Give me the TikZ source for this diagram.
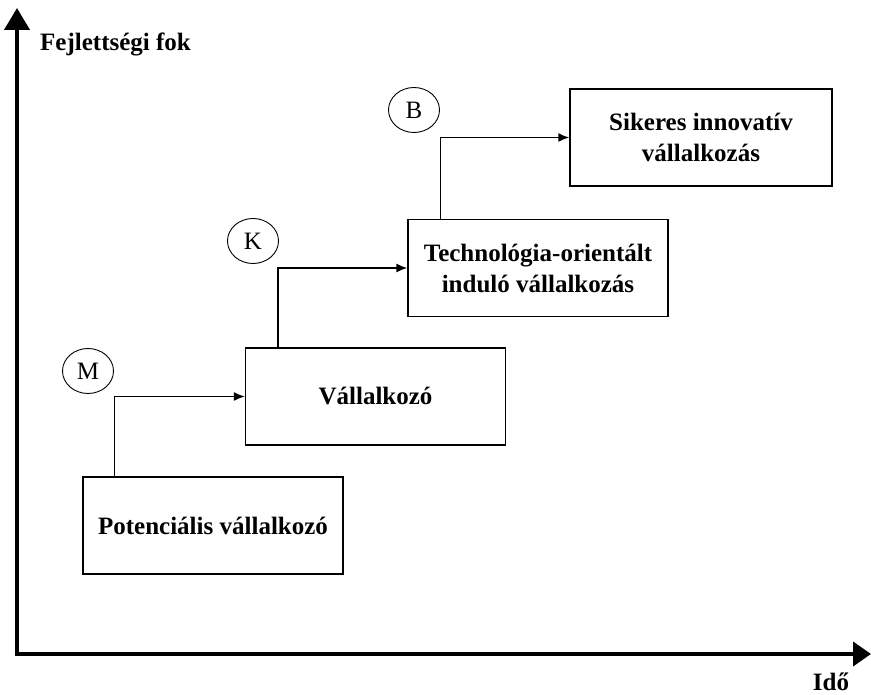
\documentclass[tikz,border=0pt]{standalone}
\usepackage{fontspec}
\setmainfont{Liberation Serif}
\usetikzlibrary{arrows.meta,shapes.geometric}
\tikzset{>=Latex}

\begin{document}
\begin{tikzpicture}[x=1pt,y=-1pt,
    stage/.style={draw, line width=1.4pt, minimum width=260pt, minimum height=97pt, inner sep=0pt,
      align=center, font=\fontsize{25}{31}\selectfont\bfseries},
    phase/.style={draw, ellipse, line width=0.9pt, minimum width=51pt, minimum height=45pt, inner sep=0pt,
      font=\fontsize{25}{30}\selectfont},
    axislabel/.style={font=\fontsize{25}{30}\selectfont\bfseries, inner sep=0pt},
    link/.style={line width=1.4pt, -{Latex[length=11pt,width=9pt]}}]
    \useasboundingbox (0,0) rectangle (871,695);
    % axes
    \coordinate (origin) at (17,654);
    \coordinate (ytip) at (17,8);
    \coordinate (xtip) at (871,654);
    \draw[line width=4pt, {Triangle[length=22pt,width=25pt]}-{Triangle[length=18pt,width=24pt]}] (ytip) -- (origin) -- (xtip);
    \node[axislabel, anchor=base west] (ylab) at (40,51) {Fejlettségi fok};
    \node[axislabel, anchor=base] (xlab) at (831,690) {Idő};
    % stages
    \node[stage] (pot) at (213,525.5) {Potenciális vállalkozó};
    \node[stage] (vall) at (375.5,396.5) {Vállalkozó};
    \node[stage] (tech) at (538,268) {Technológia-orientált\\induló vállalkozás};
    \node[stage, minimum width=262pt] (siker) at (701,137.5) {Sikeres innovatív\\vállalkozás};
    % transitions
    \draw[link] ([xshift=32pt]pot.north west) |- (vall.west);
    \draw[link] ([xshift=33pt]vall.north west) |- (tech.west);
    \draw[link] ([xshift=33pt]tech.north west) |- (siker.west);
    \node[phase] (m) at (88,371) {M};
    \node[phase] (k) at (253,241) {K};
    \node[phase] (b) at (414,110) {B};
\end{tikzpicture}
\end{document}
